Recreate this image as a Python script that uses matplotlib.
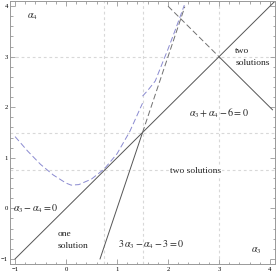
import matplotlib
matplotlib.use("Agg")
import matplotlib.pyplot as plt
from matplotlib.ticker import MultipleLocator

plt.rcParams['font.family'] = ['Liberation Serif', 'DejaVu Serif']
plt.rcParams['mathtext.fontset'] = 'stix'

# boundary lines
diag_x = [-1.0, 4.1]                 # alpha3 - alpha4 = 0
sum_solid_x = [3.0, 4.05]            # alpha3 + alpha4 - 6 = 0 (solid part)
sum_dash_x = [2.0, 3.0]              # dashed continuation
steep_solid_x = [2 / 3, 1.5]         # 3 alpha3 - alpha4 - 3 = 0 (solid part)
steep_dash_x = [1.5, 2.33]           # dashed continuation

# curve
curve_left_x = [-1.0, -0.75, -0.5, -0.25, 0.0, 0.1, 0.25, 0.5, 0.75, 1.0, 1.25, 1.5]
curve_left_y = [1.42, 1.13, 0.87, 0.66, 0.50, 0.46, 0.47, 0.58, 0.78, 1.08, 1.52, 2.08]
curve_right_x = [1.5, 1.6, 1.75, 1.9, 2.0, 2.15, 2.32]
curve_right_y = [2.22, 2.33, 2.52, 2.90, 3.15, 3.55, 4.02]

grid_vals = [0.75, 1.5, 3.0]

labels = [
    (-0.76, 3.79, r'$\alpha_4$', 'left', 7.2),
    (3.73, -0.83, r'$\alpha_3$', 'center', 7.2),
    (3.32, 3.0, 'two\nsolutions', 'left', 6.8),
    (3.0, 1.88, r'$\alpha_3+\alpha_4-6=0$', 'center', 7.2),
    (2.55, 0.74, 'two solutions', 'center', 6.8),
    (-0.59, 0.0, r'$\alpha_3-\alpha_4=0$', 'center', 7.2),
    (-0.17, -0.62, 'one\nsolution', 'left', 6.8),
    (1.66, -0.72, r'$3\,\alpha_3-\alpha_4-3=0$', 'center', 7.2),
]

fig = plt.figure(figsize=(2.77, 2.77), dpi=100)
ax = fig.add_axes([0.036, 0.047, 0.957, 0.949])

for g in grid_vals:
    ax.axvline(g, color='#d8d8d8', lw=0.8, ls=(0, (2.5, 2.5)), zorder=0)
    ax.axhline(g, color='#d8d8d8', lw=0.8, ls=(0, (2.5, 2.5)), zorder=0)

solid_c = '#555555'
dash_c = '#707070'
blue_c = '#8a8ad0'

ax.plot(diag_x, diag_x, color=solid_c, lw=0.7)
ax.plot(sum_solid_x, [6 - x for x in sum_solid_x], color=solid_c, lw=0.7)
ax.plot(sum_dash_x, [6 - x for x in sum_dash_x], color=dash_c, lw=0.7, ls=(0, (6, 3)))
ax.plot(steep_solid_x, [3 * x - 3 for x in steep_solid_x], color=solid_c, lw=0.7)
ax.plot(steep_dash_x, [3 * x - 3 for x in steep_dash_x], color=dash_c, lw=0.7, ls=(0, (6, 3)))
ax.plot(curve_left_x, curve_left_y, color=blue_c, lw=0.7, ls=(0, (6, 3)))
ax.plot(curve_right_x, curve_right_y, color=blue_c, lw=0.7, ls=(0, (6, 3)))

for x, y, s, ha, fs in labels:
    t = ax.text(x, y, s, fontsize=fs, ha=ha, va='center', color='#222222', linespacing=1.6)
    if s == 'two solutions':
        t.set_bbox(dict(facecolor='white', edgecolor='none', pad=0.5))

ax.set_xlim(-1.1, 4.1)
ax.set_ylim(-1.1, 4.1)
ax.xaxis.set_major_locator(MultipleLocator(1))
ax.yaxis.set_major_locator(MultipleLocator(1))
ax.xaxis.set_minor_locator(MultipleLocator(0.2))
ax.yaxis.set_minor_locator(MultipleLocator(0.2))
ax.tick_params(which='both', direction='in', top=True, right=True, color='#999999',
               labelsize=4.8, width=0.6)
ax.tick_params(which='major', length=3.5)
ax.tick_params(which='minor', length=1.8)
ax.tick_params(axis='x', pad=2)
ax.tick_params(axis='y', pad=1.5)
for sp in ax.spines.values():
    sp.set_color('#999999')
    sp.set_linewidth(0.7)

fig.savefig('out.png', dpi=100)
